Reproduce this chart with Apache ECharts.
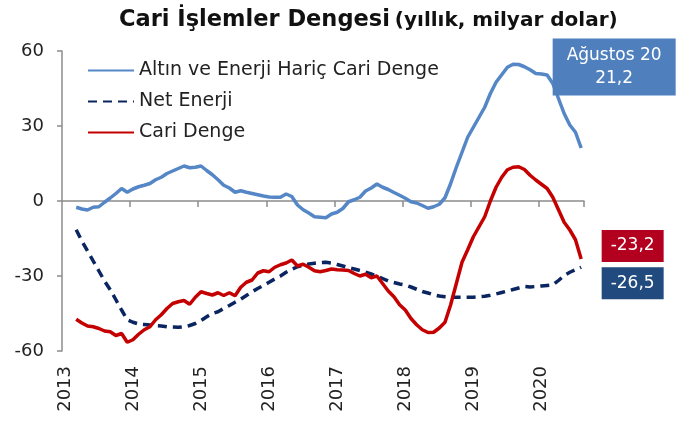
<!DOCTYPE html>
<html>
<head>
<meta charset="utf-8">
<script src="https://cdn.jsdelivr.net/npm/echarts@6/dist/echarts.min.js"></script>
<style>
html, body { margin: 0; padding: 0; background: #fff; }
#main { width: 686px; height: 421px; }
</style>
</head>
<body>
<div id="main"></div>
<script>
// aylar: 2013-01 .. 2020-08
var months = [];
for (var y = 2013; y <= 2020; y++) {
    for (var m = 1; m <= 12; m++) {
        if (y === 2020 && m > 8) break;
        months.push(y + '-' + (m < 10 ? '0' + m : m));
    }
}

// Altın ve Enerji Hariç Cari Denge
var haricDenge = [
    null, null, -2.5, -3.2, -3.6, -2.5, -2.3, -0.5, 1.2, 3, 5, 3.5,
    4.8, 5.7, 6.3, 7, 8.5, 9.5, 11, 12, 13, 14, 13.3, 13.5,
    14, 12.2, 10.5, 8.5, 6.3, 5.2, 3.5, 4.1, 3.5, 3, 2.5, 2,
    1.6, 1.5, 1.5, 2.8, 1.8, -1.6, -3.5, -4.8, -6.3, -6.5, -6.7, -5.2,
    -4.5, -3, -0.3, 0.5, 1.5, 4, 5.2, 6.8, 5.5, 4.6, 3.4, 2.3,
    1.1, -0.3, -0.8, -1.8, -2.9, -2.3, -1.3, 1.3, 7, 13.5, 19.5, 25.5,
    29.5, 33.5, 37.5, 43, 47.5, 50.5, 53.5, 54.7, 54.6, 53.7, 52.5, 51,
    50.8, 50.4, 47, 41, 35, 30.4, 27.5, 21.2
];

// Net Enerji
var netEnerji = [
    null, null, -11.5, -16, -20, -24, -28, -32, -35.5, -39.5, -43.6, -47.5,
    -48.5, -49.2, -49.4, -49.6, -49.8, -50, -50.3, -50.4, -50.5, -50.3, -49.8, -49,
    -47.8, -46.3, -45, -44.3, -43, -41.8, -40.5, -39.3, -37.8, -36.3, -35, -33.8,
    -32.5, -31.2, -30, -28.5, -27.3, -26.3, -25.7, -25.2, -24.9, -24.6, -24.5, -24.8,
    -25.4, -26, -26.7, -27.2, -27.8, -28.5, -29.2, -30, -31, -32, -32.6, -33.2,
    -33.6, -34.4, -35.3, -36.2, -36.8, -37.5, -38, -38.3, -38.5, -38.5, -38.5, -38.5,
    -38.5, -38.3, -38.1, -37.7, -37.2, -36.6, -36, -35.4, -34.8, -34.2, -34.4, -34.2,
    -34, -33.8, -33.6, -31.8, -29.8, -28.5, -27.5, -26.5
];

// Cari Denge
var cariDenge = [
    null, null, -47.3, -48.8, -50, -50.3, -51, -52, -52.3, -53.8, -53, -56.5,
    -55.5, -53.3, -51.5, -50.3, -47.5, -45.5, -43, -41, -40.3, -39.8, -41.3, -38.5,
    -36.3, -37, -37.6, -36.7, -37.8, -36.7, -37.9, -34.5, -32.5, -31.6, -28.8, -27.9,
    -28.3, -26.5, -25.5, -24.8, -23.6, -26, -25.3, -26.5, -27.9, -28.3, -27.8, -27.2,
    -27.5, -27.6, -27.8, -29, -30, -29.3, -30.7, -30, -33, -36, -38.3, -41.5,
    -43.6, -47, -49.5, -51.5, -52.6, -52.5, -50.8, -48.5, -41.5, -33, -24.5, -19.5,
    -14.3, -10.3, -6.3, 0, 5.5, 9.5, 12.5, 13.5, 13.7, 12.6, 10.3, 8.4,
    6.7, 5, 1.5, -3.5, -8.5, -11.6, -15.5, -23.2
];

var yTicks = [-60, -30, 0, 30, 60];
var lastAyAdi = 'Ağustos 20';

var FONT = 'DejaVu Sans';
var last = months.length - 1;

function trNum(v) {
    return String(v).replace('.', ',');
}

function sonEtiket(seri, renk, offset, text, pad) {
    return {
        silent: true,
        symbol: 'circle',
        symbolSize: 1,
        itemStyle: { color: 'rgba(0,0,0,0)' },
        data: [{
            coord: [months[last], seri[last]],
            label: {
                show: true,
                position: 'inside',
                offset: offset,
                formatter: text,
                color: '#fff',
                fontFamily: FONT,
                fontSize: 17,
                lineHeight: 23,
                align: 'center',
                verticalAlign: 'middle',
                backgroundColor: renk,
                padding: pad
            }
        }]
    };
}

var myChart = echarts.init(document.getElementById('main'));

var option = {
    animation: false,
    title: {
        text: '{b|Cari İşlemler Dengesi} {r|(yıllık, milyar dolar)}',
        left: 114,
        top: 4,
        textStyle: {
            rich: {
                b: { fontFamily: FONT, fontSize: 22.5, fontWeight: 'bold', color: '#111' },
                r: { fontFamily: FONT, fontSize: 20, color: '#111' }
            }
        }
    },
    legend: {
        orient: 'vertical',
        left: 82,
        top: 56,
        itemWidth: 46,
        itemHeight: 16,
        itemGap: 12,
        itemStyle: { opacity: 0, borderWidth: 0 },
        textStyle: { fontFamily: FONT, fontSize: 19, color: '#222' },
        data: ['Altın ve Enerji Hariç Cari Denge', 'Net Enerji', 'Cari Denge']
    },
    grid: {
        left: 62,
        right: 102,
        top: 51,
        bottom: 70
    },
    xAxis: [
        {
            type: 'category',
            position: 'bottom',
            data: months,
            axisLine: { show: false, onZero: false },
            axisTick: { show: false },
            axisLabel: {
                rotate: 90,
                margin: 15,
                interval: function (i) { return i % 12 === 0; },
                formatter: function (v) { return v.slice(0, 4); },
                fontFamily: FONT,
                fontSize: 18,
                color: '#222'
            },
            splitLine: { show: false }
        },
        {
            type: 'category',
            position: 'bottom',
            data: months,
            axisLine: { show: true, onZero: true, lineStyle: { color: '#8c8c8c', width: 1.5 } },
            axisTick: {
                show: true,
                length: 6,
                interval: function (i) { return i % 12 === 0 && i > 0; },
                lineStyle: { color: '#8c8c8c', width: 1.5 }
            },
            axisLabel: { show: false },
            splitLine: { show: false }
        }
    ],
    yAxis: {
        type: 'value',
        min: yTicks[0],
        max: yTicks[yTicks.length - 1],
        interval: 30,
        axisLine: { show: true, lineStyle: { color: '#8c8c8c', width: 1.5 } },
        axisTick: { show: true, length: 5, lineStyle: { color: '#8c8c8c', width: 1.5 } },
        axisLabel: { fontFamily: FONT, fontSize: 18, color: '#222', margin: 18 },
        splitLine: { show: false }
    },
    series: [
        {
            name: 'Altın ve Enerji Hariç Cari Denge',
            type: 'line',
            xAxisIndex: 0,
            data: haricDenge,
            showSymbol: false,
            symbol: 'none',
            color: '#5587c6',
            lineStyle: { width: 3.5, color: '#5587c6' },
            markPoint: sonEtiket(haricDenge, '#4f80bd', [33, -81],
                lastAyAdi + '\n' + trNum(haricDenge[last]), [6, 14, 5, 14])
        },
        {
            name: 'Net Enerji',
            type: 'line',
            xAxisIndex: 0,
            data: netEnerji,
            showSymbol: false,
            symbol: 'none',
            color: '#0b2561',
            lineStyle: { width: 3.5, color: '#0b2561', type: [9, 6] },
            markPoint: sonEtiket(netEnerji, '#214a7e', [51.5, 16], trNum(netEnerji[last]), [5, 9, 4, 9])
        },
        {
            name: 'Cari Denge',
            type: 'line',
            xAxisIndex: 0,
            data: cariDenge,
            showSymbol: false,
            symbol: 'none',
            color: '#c40000',
            lineStyle: { width: 3.5, color: '#c40000' },
            markPoint: sonEtiket(cariDenge, '#b3001e', [51.5, -13], trNum(cariDenge[last]), [5, 9, 4, 9])
        }
    ]
};

myChart.setOption(option);
</script>
</body>
</html>
